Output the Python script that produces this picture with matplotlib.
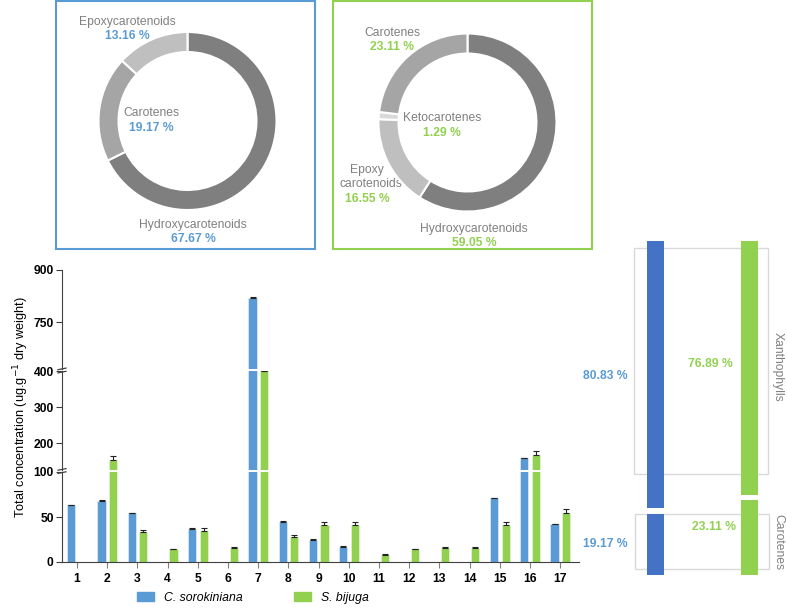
import numpy as np
import matplotlib
matplotlib.use("Agg")
import matplotlib.pyplot as plt
from matplotlib.patches import Patch, Rectangle

plt.rcParams['font.family'] = ['Liberation Sans', 'DejaVu Sans']

# %% data
compounds = [str(i) for i in range(1, 18)]
c_soro = [63, 68, 54, 0, 37, 0, 820, 45, 25, 17, 0, 0, 0, 0, 71, 158, 42]
c_soro_err = [0.5, 0.5, 0.5, 0, 0.5, 0, 1, 0.5, 0.5, 0.8, 0, 0, 0, 0, 0.5, 1, 0.5]
s_bij = [0, 153, 33, 14, 35, 16, 400, 28, 41, 41, 8, 14, 16, 16, 41, 167, 54]
s_bij_err = [0, 11, 3, 0.6, 3, 0.8, 0, 2, 3, 3, 0.5, 0.8, 0.8, 0.8, 3, 12, 5]

donut1_labels = ['Hydroxycarotenoids', 'Carotenes', 'Epoxycarotenoids']
donut1_vals = [67.67, 19.17, 13.16]
donut2_labels = ['Hydroxycarotenoids', 'Epoxy carotenoids', 'Ketocarotenes', 'Carotenes']
donut2_vals = [59.05, 16.55, 1.29, 23.11]

groups = ['Carotenes', 'Xanthophylls']
soro_groups = [19.17, 80.83]
bij_groups = [23.11, 76.89]

BLUE = '#5b9bd5'
DBLUE = '#4472c4'
GREEN = '#92d050'
GREY_TXT = '#808080'

W, H = 787, 616
fig = plt.figure(figsize=(W / 100, H / 100), dpi=100)


def px_axes(l, t, r, b, **kw):
    return fig.add_axes([l / W, 1 - b / H, (r - l) / W, (b - t) / H], **kw)


# overlay in pixel coords for boxes / annotations
ov = px_axes(0, 0, W, H, zorder=-1)
ov.set_xlim(0, W)
ov.set_ylim(H, 0)
ov.axis('off')

# %% donuts
def donut(ax, vals, colors):
    ax.pie(vals, colors=colors, startangle=90, counterclock=False,
           wedgeprops=dict(width=0.225, edgecolor='white', linewidth=1.5))
    ax.set_xlim(-1, 1)
    ax.set_ylim(-1, 1)


ax_d1 = px_axes(98.5, 32, 276.5, 210)
donut(ax_d1, donut1_vals, ['#7f7f7f', '#a5a5a5', '#bfbfbf'])
ax_d2 = px_axes(378.5, 33.5, 556.5, 211.5)
donut(ax_d2, donut2_vals, ['#7f7f7f', '#bfbfbf', '#d9d9d9', '#a5a5a5'])

ov.add_patch(Rectangle((56, 1), 259, 248, fill=False, edgecolor=BLUE, lw=1.5))
ov.add_patch(Rectangle((333, 1), 259, 248, fill=False, edgecolor=GREEN, lw=1.5))

lab = dict(color=GREY_TXT, fontsize=8.7, ha='center', va='center')
pct_b = dict(color=BLUE, fontsize=8.7, fontweight='bold', ha='center', va='center')
pct_g = dict(color=GREEN, fontsize=8.7, fontweight='bold', ha='center', va='center')

ov.text(127, 22, 'Epoxycarotenoids', **lab)
ov.text(127, 36, f'{donut1_vals[2]:.2f} %', **pct_b)
ov.text(151, 113, 'Carotenes', **lab)
ov.text(151, 128, f'{donut1_vals[1]:.2f} %', **pct_b)
ov.text(193, 225, 'Hydroxycarotenoids', **lab)
ov.text(193, 239, f'{donut1_vals[0]:.2f} %', **pct_b)

ov.text(392, 33, 'Carotenes', **lab)
ov.text(392, 47, f'{donut2_vals[3]:.2f} %', **pct_g)
ov.text(442, 118, 'Ketocarotenes', **lab)
ov.text(442, 133, f'{donut2_vals[2]:.2f} %', **pct_g)
ov.text(367, 170, 'Epoxy', **lab)
ov.text(371, 184, 'carotenoids', **lab)
ov.text(367, 199, f'{donut2_vals[1]:.2f} %', **pct_g)
ov.text(474, 229, 'Hydroxycarotenoids', **lab)
ov.text(474, 243, f'{donut2_vals[0]:.2f} %', **pct_g)

# %% broken-axis bar chart
x = np.arange(1, 18)
cs = np.array(c_soro, float)
cs_e = np.array(c_soro_err, float)
sb = np.array(s_bij, float)
sb_e = np.array(s_bij_err, float)

ax_top = px_axes(62, 270, 579, 369)
ax_mid = px_axes(62, 371, 579, 470)
ax_bot = px_axes(62, 472, 579, 562)
segments = [(ax_top, (615, 900), [750, 900]),
            (ax_mid, (125, 400), [200, 300, 400]),
            (ax_bot, (0, 100), [0, 50, 100])]

bw = 0.27
for ax, lim, ticks in segments:
    m = cs > 0
    ax.bar(x[m] - 0.19, cs[m], bw, color=BLUE, edgecolor='#d6e6f5', lw=0.6)
    ax.errorbar(x[m] - 0.19, cs[m], yerr=[np.zeros(m.sum()), cs_e[m]], fmt='none',
                ecolor='#222222', elinewidth=0.8, capsize=2.5, capthick=0.8)
    m = sb > 0
    ax.bar(x[m] + 0.19, sb[m], bw, color=GREEN, edgecolor='#e3f2d3', lw=0.6)
    ax.errorbar(x[m] + 0.19, sb[m], yerr=[np.zeros(m.sum()), sb_e[m]], fmt='none',
                ecolor='#222222', elinewidth=0.8, capsize=2.5, capthick=0.8)
    ax.set_ylim(*lim)
    ax.set_xlim(0.5, 17.62)
    ax.set_yticks(ticks)
    ax.set_facecolor('none')
    for s in ['top', 'right', 'bottom']:
        ax.spines[s].set_visible(False)
    ax.spines['left'].set_color('#404040')
    ax.tick_params(axis='y', direction='out', length=4, color='#404040',
                   labelsize=8.7, pad=2)
    for t in ax.get_yticklabels():
        t.set_fontweight('bold')
    ax.set_xticks([])

ax_bot.spines['bottom'].set_visible(True)
ax_bot.spines['bottom'].set_color('#404040')
ax_bot.set_xticks(x)
ax_bot.set_xticklabels(compounds, fontweight='bold', fontsize=8.7)
ax_bot.tick_params(axis='x', length=4, color='#808080', pad=4)

# break marks on the y axis
for yb in (370.5, 471):
    for dy in (-1.6, 1.6):
        ov.plot([58, 66], [yb + dy + 0.8, yb + dy - 0.8], color='#404040', lw=0.9,
                zorder=5)

fig.text(21 / W, 1 - 407 / H, 'Total concentration (ug.g$^{-1}$ dry weight)',
         rotation=90, ha='center', va='center', fontsize=9.2)

fig.legend(handles=[Patch(color=BLUE, label='C. sorokiniana'),
                    Patch(color=GREEN, label='S. bijuga')],
           loc='center left', bbox_to_anchor=(137 / W, 1 - 598 / H), ncol=2,
           frameon=False, prop=dict(style='italic', size=8.8),
           handlelength=1.4, handleheight=0.75, handletextpad=0.8,
           columnspacing=4.2, borderpad=0, borderaxespad=0)

# %% right panel: carotenes vs xanthophylls
ax_r = px_axes(608, 241, 788, 575)
ax_r.set_xlim(-0.5, -0.5 + 180 / 94.5)
ax_r.set_ylim(0, 100)
ax_r.axis('off')
gap = 0.8
for xi, vals, col in [(0, soro_groups, DBLUE), (1, bij_groups, GREEN)]:
    car, xan = vals
    ax_r.bar(xi, car - gap, 0.175, bottom=0, color=col)
    ax_r.bar(xi, xan - gap, 0.175, bottom=car + gap, color=col)

ov.add_patch(Rectangle((634, 248), 134, 226, fill=False, edgecolor='#d9d9d9', lw=1))
ov.add_patch(Rectangle((635, 514), 134, 55, fill=False, edgecolor='#d9d9d9', lw=1))
ov.text(778, 367, groups[1], rotation=-90, **lab)
ov.text(778, 542, groups[0], rotation=-90, **lab)

ov.text(605, 376, f'{soro_groups[1]:.2f} %', **pct_b)
ov.text(605, 544, f'{soro_groups[0]:.2f} %', **pct_b)
ov.text(710, 364, f'{bij_groups[1]:.2f} %', **pct_g)
ov.text(714, 527, f'{bij_groups[0]:.2f} %', **pct_g)

fig.savefig('out.png', dpi=100)
